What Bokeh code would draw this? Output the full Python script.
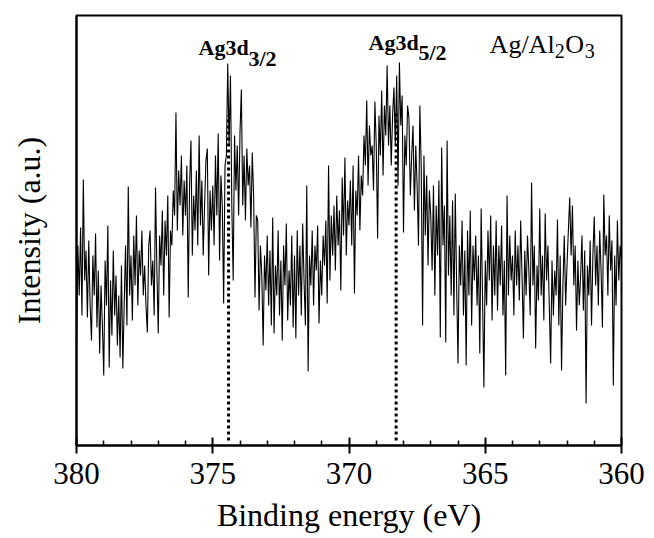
from bokeh.plotting import figure
from bokeh.models import Range1d, FixedTicker, Label, ColumnDataSource
from bokeh.embed import file_html
from bokeh.resources import INLINE

# ---- data (arbitrary intensity units) ----
energy_start = 380.0
energy_step = 0.05
intensity = [
    102, 200, 150, 218, 130, 266, 165, 195, 128, 205,
    140, 105, 190, 150, 212, 118, 175, 92, 160, 120,
    70, 185, 140, 220, 78, 165, 110, 195, 130, 170,
    100, 150, 88, 180, 77, 140, 200, 120, 259, 150,
    190, 125, 210, 160, 230, 140, 195, 170, 215, 150,
    180, 140, 113, 200, 215, 160, 185, 130, 258, 175,
    112, 210, 180, 235, 150, 225, 190, 250, 128, 215,
    200, 255, 230, 333, 215, 275, 240, 290, 210, 265,
    230, 280, 148, 260, 305, 190, 250, 215, 275, 200,
    310, 220, 265, 190, 240, 285, 297, 170, 255, 215,
    260, 200, 290, 230, 312, 185, 270, 240, 142, 280,
    290, 382, 300, 370, 240, 165, 310, 255, 300, 230,
    313, 356, 240, 290, 225, 297, 260, 280, 218, 293,
    250, 148, 230, 225, 135, 200, 170, 100, 190, 155,
    210, 140, 195, 120, 228, 112, 180, 150, 215, 130,
    185, 105, 200, 160, 222, 125, 175, 140, 210, 118,
    190, 107, 215, 150, 200, 130, 222, 165, 120, 260,
    74, 190, 160, 215, 140, 200, 175, 220, 122, 185,
    150, 210, 180, 225, 142, 280, 165, 230, 190, 240,
    175, 250, 200, 235, 155, 268, 210, 288, 190, 245,
    220, 265, 200, 280, 152, 255, 230, 290, 215, 270,
    250, 310, 280, 345, 260, 320, 290, 300, 255, 344,
    300, 207, 330, 290, 355, 270, 340, 310, 380, 300,
    340, 280, 330, 358, 300, 370, 260, 383, 320, 350,
    213, 310, 280, 340, 327, 250, 290, 320, 235, 300,
    260, 200, 340, 280, 120, 290, 210, 270, 180, 255,
    230, 175, 260, 150, 240, 190, 265, 108, 298, 200,
    240, 103, 305, 170, 230, 150, 245, 130, 252, 160,
    82, 200, 160, 225, 130, 195, 80, 215, 150, 235,
    120, 200, 165, 210, 140, 190, 92, 237, 150, 58,
    185, 140, 215, 165, 230, 125, 200, 150, 225, 135,
    200, 160, 220, 130, 185, 70, 250, 150, 210, 165,
    190, 130, 215, 160, 200, 145, 225, 170, 107, 195,
    150, 210, 175, 130, 263, 160, 200, 97, 180, 145,
    237, 150, 190, 125, 232, 165, 200, 140, 82, 185,
    130, 175, 150, 226, 120, 190, 75, 160, 210, 140,
    180, 215, 248, 190, 240, 160, 200, 115, 185, 140,
    170, 210, 135, 195, 42, 180, 150, 205, 120, 190,
    229, 160, 200, 140, 215, 175, 118, 251, 190, 210,
    150, 230, 175, 205, 60, 190, 140, 225, 165, 200,
    185,
]
energy = [round(energy_start - energy_step * i, 2) for i in range(len(intensity))]

peak_names = ["Ag3d", "Ag3d"]
peak_subscripts = ["3/2", "5/2"]
peak_positions = [374.42, 368.27]
peak_line_bottom = [5, 5]
peak_line_top = [330, 335]

x_major_ticks = [380, 375, 370, 365, 360]
x_minor_ticks = [379, 378, 377, 376, 374, 373, 372, 371, 369, 368, 367, 366,
                 364, 363, 362, 361]

sample_name = ["Ag/Al", "2", "O", "3"]

FONT = "Liberation Serif"

p = figure(width=654, height=538,
           x_range=Range1d(380, 360), y_range=Range1d(0, 430),
           output_backend="svg", toolbar_location=None,
           min_border_left=76, min_border_right=33,
           min_border_top=15, min_border_bottom=93)

p.line(energy, intensity, line_color="black", line_width=1.1)

seg_src = ColumnDataSource(dict(x0=peak_positions, y0=peak_line_bottom,
                                x1=peak_positions, y1=peak_line_top))
p.segment(x0="x0", y0="y0", x1="x1", y1="y1", source=seg_src,
          line_color="black", line_width=3, line_dash="3 3")

# grid / outline
p.xgrid.visible = False
p.ygrid.visible = False
p.outline_line_color = "black"
p.outline_line_width = 2
p.outline_line_alpha = 1
p.background_fill_color = "white"
p.border_fill_color = "white"

# x axis
xa = p.xaxis[0]
xa.ticker = FixedTicker(ticks=x_major_ticks, minor_ticks=x_minor_ticks)
xa.axis_line_width = 2
xa.major_tick_line_width = 2
xa.major_tick_in = 8
xa.major_tick_out = 8
xa.minor_tick_line_width = 1.5
xa.minor_tick_in = 5
xa.minor_tick_out = 0
xa.major_label_text_font = FONT
xa.major_label_text_font_size = "31px"
xa.major_label_text_color = "black"
xa.major_label_standoff = 9
xa.axis_label = "Binding energy (eV)"
xa.axis_label_text_font = FONT
xa.axis_label_text_font_size = "32px"
xa.axis_label_text_font_style = "normal"
xa.axis_label_text_color = "black"
xa.axis_label_standoff = 10

# y axis
ya = p.yaxis[0]
ya.ticker = FixedTicker(ticks=[])
ya.axis_line_width = 2
ya.major_tick_line_color = None
ya.minor_tick_line_color = None
ya.axis_label = "Intensity (a.u.)"
ya.axis_label_text_font = FONT
ya.axis_label_text_font_size = "32px"
ya.axis_label_text_font_style = "normal"
ya.axis_label_text_color = "black"
ya.axis_label_standoff = 30

# peak labels
name_x = [375.52, 369.28]
name_y = [398, 403]
sub_x = [373.69, 367.45]
sub_y = [387, 393]
for i in range(2):
    p.add_layout(Label(x=name_x[i], y=name_y[i], text=peak_names[i],
                       text_font=FONT, text_font_size="22px",
                       text_font_style="bold", text_color="black",
                       text_baseline="alphabetic", text_align="left"))
    p.add_layout(Label(x=sub_x[i], y=sub_y[i], text=peak_subscripts[i],
                       text_font=FONT, text_font_size="22px",
                       text_font_style="bold", text_color="black",
                       text_baseline="alphabetic", text_align="left"))

# sample name Ag/Al2O3
samp_x = [364.84, 362.45, 362.06, 361.35]
samp_y = [401, 395, 401, 395]
samp_size = ["26px", "20px", "26px", "20px"]
for i in range(4):
    p.add_layout(Label(x=samp_x[i], y=samp_y[i], text=sample_name[i],
                       text_font=FONT, text_font_size=samp_size[i],
                       text_color="black", text_baseline="alphabetic",
                       text_align="left"))

open("out.html", "w").write(file_html(p, INLINE))
